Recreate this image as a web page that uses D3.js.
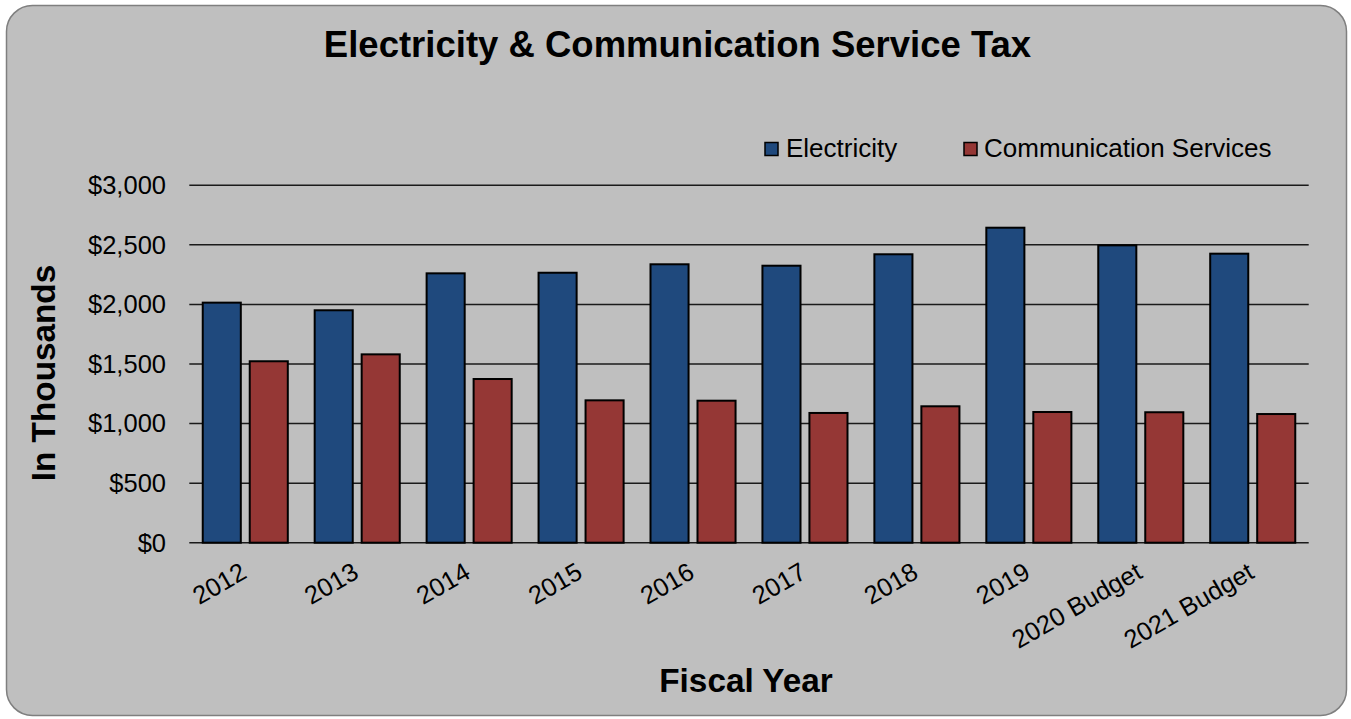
<!DOCTYPE html>
<html>
<head>
<meta charset="utf-8">
<script src="https://cdn.jsdelivr.net/npm/d3@7"></script>
<style>
  html, body { margin: 0; padding: 0; background: #ffffff; }
  svg { display: block; }
  text { font-family: "Liberation Sans", Arial, sans-serif; fill: #000; }
</style>
</head>
<body>
<script>
const categories = ["2012", "2013", "2014", "2015", "2016", "2017", "2018", "2019", "2020 Budget", "2021 Budget"];
const electricity = [2015, 1951, 2261, 2266, 2337, 2325, 2421, 2644, 2496, 2426];
const communication = [1523, 1581, 1374, 1195, 1192, 1089, 1145, 1097, 1095, 1080];
const seriesNames = ["Electricity", "Communication Services"];
const seriesColors = ["#1F497D", "#953735"];
const yTicks = [0, 500, 1000, 1500, 2000, 2500, 3000];

const W = 1351, H = 719;
const svg = d3.select("body").append("svg").attr("width", W).attr("height", H);

// background panel
svg.append("rect")
  .attr("x", 6.5).attr("y", 5.5).attr("width", 1340).attr("height", 710)
  .attr("rx", 26).attr("ry", 26)
  .attr("fill", "#BFBFBF").attr("stroke", "#7F7F7F").attr("stroke-width", 1.5);

const plot = { left: 189.3, right: 1308.7, top: 185.3, bottom: 542.7 };

const x0 = d3.scaleBand().domain(categories).range([plot.left, plot.right]).padding(0);
const x1 = d3.scaleBand().domain(seriesNames).range([0, x0.bandwidth()])
  .paddingInner(0.19).paddingOuter(0.286);
const y = d3.scaleLinear().domain([0, 3000]).range([plot.bottom, plot.top]);

// gridlines
svg.append("g").selectAll("line").data(yTicks).join("line")
  .attr("x1", plot.left).attr("x2", plot.right)
  .attr("y1", d => y(d)).attr("y2", d => y(d))
  .attr("stroke", "#1a1a1a").attr("stroke-width", 1.5);

// y tick labels
const fmt = d => "$" + d3.format(",")(d);
svg.append("g").selectAll("text").data(yTicks).join("text")
  .attr("x", 166).attr("y", d => y(d)).attr("dy", "0.35em")
  .attr("text-anchor", "end").attr("font-size", 25.5)
  .text(fmt);

// bars
const rows = categories.map((c, i) => ({ c, vals: [electricity[i], communication[i]] }));
const groups = svg.append("g").selectAll("g").data(rows).join("g")
  .attr("transform", d => `translate(${x0(d.c)},0)`);
groups.selectAll("rect").data(d => d.vals.map((v, j) => ({ name: seriesNames[j], v, j })))
  .join("rect")
  .attr("x", d => x1(d.name)).attr("width", x1.bandwidth())
  .attr("y", d => y(d.v)).attr("height", d => y(0) - y(d.v))
  .attr("fill", d => seriesColors[d.j]).attr("stroke", "#000").attr("stroke-width", 2);

// x tick labels
svg.append("g").selectAll("text").data(categories).join("text")
  .attr("text-anchor", "end").attr("font-size", 25.5)
  .attr("transform", d => `translate(${x0(d) + x0.bandwidth() / 2 + 3},577) rotate(-30)`)
  .text(d => d);

// title
svg.append("text").attr("x", 677.5).attr("y", 57).attr("text-anchor", "middle")
  .attr("font-size", 36.5).attr("font-weight", "bold")
  .text("Electricity & Communication Service Tax");

// axis titles
svg.append("text").attr("x", 746).attr("y", 691.7).attr("text-anchor", "middle")
  .attr("font-size", 33.3).attr("font-weight", "bold").text("Fiscal Year");
svg.append("text").attr("transform", "translate(55,373) rotate(-90)")
  .attr("text-anchor", "middle").attr("font-size", 33.3).attr("font-weight", "bold")
  .text("In Thousands");

// legend
const legendPos = [{ sx: 765, tx: 786 }, { sx: 964, tx: 984 }];
const lg = svg.append("g").selectAll("g").data(seriesNames).join("g");
lg.append("rect")
  .attr("x", (d, i) => legendPos[i].sx).attr("y", 142.5).attr("width", 13).attr("height", 13)
  .attr("fill", (d, i) => seriesColors[i]).attr("stroke", "#000").attr("stroke-width", 1.5);
lg.append("text")
  .attr("x", (d, i) => legendPos[i].tx).attr("y", 156.5).attr("font-size", 26)
  .text(d => d);
</script>
</body>
</html>
